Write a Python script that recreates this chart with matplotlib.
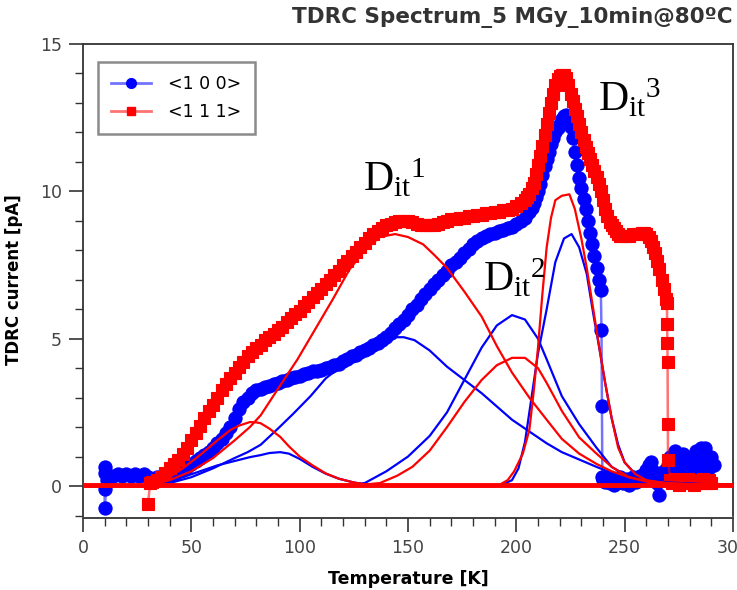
import matplotlib
matplotlib.use("Agg")
import matplotlib.pyplot as plt
from matplotlib.ticker import MultipleLocator

plt.rcParams['font.family'] = ['DejaVu Sans']
plt.rcParams['mathtext.fontset'] = 'custom'
plt.rcParams['mathtext.rm'] = 'Liberation Serif'
plt.rcParams['mathtext.it'] = 'Liberation Serif:italic'

title = "TDRC Spectrum_5 MGy_10min@80ºC"
xlabel = "Temperature [K]"
ylabel = "TDRC current [pA]"
labels = ["<1 0 0>", "<1 1 1>"]

# ---- measured data <1 0 0> (blue circles)
T_100 = [10, 10, 10, 10, 11, 12, 14, 16, 18, 20, 22, 24, 26, 28, 30, 32, 34, 36, 38, 40,
         42, 44, 46, 48, 50, 52, 54, 56, 58, 60, 62, 64, 66, 68, 70, 72, 74, 76, 78, 80,
         82, 84, 86, 88, 90, 92, 94, 96, 98, 100, 102, 104, 106, 108, 110, 112, 114, 116, 118, 120,
         122, 124, 126, 128, 130, 132, 134, 136, 138, 140, 142, 144, 146, 148, 150, 152, 154, 156, 158, 160,
         162, 164, 166, 168, 170, 172, 174, 176, 178, 180, 182, 184, 186, 188, 190, 192, 194, 196, 198, 200,
         202, 204, 206, 207, 208, 209, 210, 211, 212, 213, 214, 215, 216, 217, 218, 219, 220, 221, 222, 223,
         224, 225, 226, 227, 228, 229, 230, 231, 232, 233, 234, 235, 236, 237, 238, 239, 239.3, 239.5, 239.7, 240,
         241, 242, 243, 244, 245, 246, 247, 248, 249, 250, 251, 252, 253, 254, 255, 256, 257, 258, 259, 260,
         261, 262, 263, 264, 265, 266, 267, 268, 269, 270, 271, 272, 273, 274, 275, 276, 277, 278, 279, 280,
         281, 282, 283, 284, 285, 286, 287, 288, 289, 290, 291]
I_100 = [0.65, 0.45, -0.1, -0.75, 0.2, 0.3, 0.35, 0.4, 0.35, 0.4, 0.35, 0.4, 0.35, 0.4, 0.3, 0.25, 0.3, 0.3, 0.35, 0.4,
         0.45, 0.5, 0.55, 0.65, 0.75, 0.85, 0.95, 1.05, 1.15, 1.3, 1.45, 1.6, 1.8, 2.0, 2.3, 2.6, 2.85, 3.0, 3.15, 3.25,
         3.3, 3.35, 3.4, 3.45, 3.5, 3.55, 3.6, 3.65, 3.7, 3.75, 3.8, 3.85, 3.9, 3.9, 3.95, 4.0, 4.05, 4.1, 4.15, 4.25,
         4.3, 4.4, 4.45, 4.55, 4.6, 4.7, 4.8, 4.85, 4.95, 5.05, 5.2, 5.35, 5.5, 5.65, 5.8, 6.0, 6.15, 6.35, 6.5, 6.7,
         6.85, 7.0, 7.15, 7.3, 7.5, 7.6, 7.75, 7.9, 8.05, 8.2, 8.3, 8.4, 8.5, 8.55, 8.6, 8.65, 8.7, 8.75, 8.8, 8.9,
         9.0, 9.1, 9.3, 9.45, 9.6, 9.8, 10.0, 10.25, 10.55, 10.85, 11.1, 11.35, 11.6, 11.8, 12.0, 12.15, 12.3, 12.45, 12.55, 12.6,
         12.5, 12.2, 11.8, 11.35, 10.9, 10.45, 10.1, 9.75, 9.4, 9.0, 8.6, 8.2, 7.8, 7.4, 7.0, 6.65, 5.3, 2.7, 0.3, 0.2,
         0.15, 0.3, 0.1, 0.25, 0.05, 0.2, 0.15, 0.3, 0.1, 0.2, 0.25, 0.05, 0.2, 0.3, 0.15, 0.2, 0.35, 0.25, 0.4, 0.55,
         0.7, 0.8, 0.5, 0.3, 0.1, -0.3, 0.2, 0.5, 0.3, 0.7, 1.0, 0.6, 1.2, 0.9, 0.4, 0.8, 1.1, 0.5, 0.9, 0.6,
         1.0, 0.4, 1.2, 0.8, 1.3, 0.5, 1.3, 0.9, 0.6, 1.0, 0.7]

# ---- measured data <1 1 1> (red squares)
T_111 = [30, 31, 32, 34, 36, 38, 40, 42, 44, 46, 48, 50, 52, 54, 56, 58, 60, 62, 64, 66,
         68, 70, 72, 74, 76, 78, 80, 82, 84, 86, 88, 90, 92, 94, 96, 98, 100, 102, 104, 106,
         108, 110, 112, 114, 116, 118, 120, 122, 124, 126, 128, 130, 132, 134, 136, 138, 140, 142, 144, 146,
         148, 150, 152, 154, 156, 158, 160, 162, 164, 166, 168, 170, 172, 174, 176, 178, 180, 182, 184, 186,
         188, 190, 192, 194, 196, 198, 200, 202, 204, 205, 206, 207, 208, 209, 210, 211, 212, 213, 214, 215,
         216, 217, 218, 219, 220, 221, 222, 223, 224, 225, 226, 227, 228, 229, 230, 231, 232, 233, 234, 235,
         236, 237, 238, 239, 240, 241, 242, 243, 244, 245, 246, 247, 248, 250, 252, 254, 256, 258, 259, 260,
         261, 262, 263, 264, 265, 266, 267, 268, 269, 269.5, 269.6, 269.7, 269.8, 269.9, 270, 271, 272, 273, 274,
         275, 276, 277, 278, 279, 280, 281, 282, 283, 284, 285, 286, 287, 288, 289, 290]
I_111 = [-0.6, 0.1, 0.15, 0.2, 0.3, 0.45, 0.6, 0.75, 0.9, 1.1, 1.3, 1.55, 1.8, 2.05, 2.3, 2.55, 2.75, 3.0, 3.25, 3.45,
         3.65, 3.85, 4.05, 4.2, 4.4, 4.55, 4.7, 4.8, 4.95, 5.05, 5.15, 5.3, 5.4, 5.55, 5.7, 5.85, 5.95, 6.1, 6.25, 6.4,
         6.55, 6.7, 6.85, 7.0, 7.15, 7.3, 7.5, 7.65, 7.8, 7.95, 8.1, 8.25, 8.4, 8.55, 8.65, 8.75, 8.85, 8.9, 8.95, 9.0,
         9.0, 9.0, 8.95, 8.9, 8.85, 8.85, 8.85, 8.85, 8.9, 8.95, 9.0, 9.05, 9.05, 9.1, 9.1, 9.15, 9.15, 9.2, 9.2, 9.25,
         9.25, 9.3, 9.3, 9.35, 9.35, 9.4, 9.5, 9.6, 9.7, 9.8, 9.9, 10.1, 10.3, 10.6, 10.9, 11.2, 11.55, 11.9, 12.3, 12.65,
         13.0, 13.3, 13.6, 13.8, 13.9, 13.95, 13.95, 13.85, 13.6, 13.3, 13.05, 12.8, 12.55, 12.3, 12.0, 11.75, 11.5, 11.3, 11.1, 10.9,
         10.7, 10.5, 10.25, 10.0, 9.7, 9.4, 9.15, 8.95, 8.85, 8.75, 8.65, 8.55, 8.5, 8.5, 8.5, 8.55, 8.55, 8.6, 8.6, 8.55,
         8.45, 8.3, 8.1, 7.9, 7.65, 7.35, 7.0, 6.7, 6.35, 6.2, 5.5, 4.85, 4.2, 2.1, 0.9, 0.2, 0.1, 0.25, 0.15,
         0.05, 0.2, 0.1, 0.15, 0.25, 0.1, 0.2, 0.05, 0.15, 0.2, 0.1, 0.25, 0.15, 0.1, 0.2, 0.1]

# ---- fitted components <1 0 0> (blue thin lines)
T_b1 = [0, 30, 40, 46, 54, 62, 70, 77, 82, 86, 91, 95, 100, 106, 112, 118, 125, 132, 140, 300]
I_b1 = [0.0, 0.0, 0.1, 0.3, 0.5, 0.7, 0.85, 0.98, 1.05, 1.12, 1.15, 1.1, 0.92, 0.65, 0.42, 0.25, 0.12, 0.04, 0.0, 0.0]
T_b2 = [0, 30, 40, 50, 60, 70, 76, 82, 90, 97, 105, 112, 118, 125, 131, 137, 143, 148, 153, 160,
        168, 176, 184, 191, 198, 206, 214, 221, 229, 237, 244, 252, 260, 270, 285, 300]
I_b2 = [0.0, 0.0, 0.1, 0.3, 0.6, 0.95, 1.15, 1.4, 1.95, 2.45, 3.05, 3.65, 4.0, 4.45, 4.75, 4.95, 5.05, 5.05, 4.95, 4.6,
        4.05, 3.6, 3.15, 2.7, 2.25, 1.85, 1.45, 1.15, 0.9, 0.65, 0.45, 0.3, 0.2, 0.12, 0.07, 0.05]
T_b3 = [0, 120, 130, 140, 150, 160, 168, 176, 184, 191, 198, 204, 210, 214, 221, 229, 237, 244, 252, 260, 270, 300]
I_b3 = [0.0, 0.0, 0.1, 0.5, 1.0, 1.7, 2.5, 3.6, 4.7, 5.45, 5.8, 5.65, 5.0, 4.3, 3.05, 2.1, 1.3, 0.65, 0.3, 0.15, 0.08, 0.04]
T_b4 = [0, 190, 193, 198, 201, 204, 207, 210, 214, 218, 222, 225.5, 229, 232.5, 235.5, 238.5, 241, 244, 247, 250, 255, 260, 270, 300]
I_b4 = [0.0, 0.0, 0.03, 0.2, 0.6, 1.5, 3.0, 4.5, 6.0, 7.6, 8.4, 8.55, 8.1, 7.2, 5.85, 4.6, 3.5, 2.3, 1.4, 0.8, 0.4, 0.2, 0.08, 0.04]

# ---- fitted components <1 1 1> (red thin lines)
T_r1 = [0, 25, 32, 40, 46, 54, 62, 68, 72, 77, 80, 82, 86, 91, 95, 100, 106, 112, 118, 125, 132, 140, 300]
I_r1 = [0.0, 0.0, 0.08, 0.3, 0.6, 1.05, 1.55, 1.9, 2.05, 2.17, 2.16, 2.13, 1.95, 1.67, 1.35, 1.0, 0.7, 0.43, 0.25, 0.12, 0.04, 0.0, 0.0]
T_r2 = [0, 28, 32, 40, 50, 60, 70, 77, 82, 90, 99, 107, 115, 123, 130, 137, 144, 150, 157, 162,
        168, 176, 184, 191, 198, 206, 214, 221, 229, 237, 244, 252, 260, 270, 285, 300]
I_r2 = [0.0, 0.0, 0.05, 0.2, 0.5, 0.95, 1.55, 2.0, 2.4, 3.3, 4.3, 5.3, 6.3, 7.35, 8.0, 8.45, 8.55, 8.45, 8.2, 7.85,
        7.4, 6.6, 5.75, 4.75, 3.85, 3.0, 2.25, 1.6, 1.1, 0.75, 0.5, 0.3, 0.18, 0.1, 0.05, 0.03]
T_r3 = [0, 125, 137, 145, 152, 160, 168, 176, 184, 191, 198, 204, 210, 214, 221, 229, 237, 244, 252, 260, 270, 300]
I_r3 = [0.0, 0.02, 0.1, 0.35, 0.65, 1.2, 2.0, 2.85, 3.6, 4.1, 4.35, 4.35, 4.0, 3.5, 2.55, 1.65, 1.1, 0.65, 0.3, 0.15, 0.08, 0.04]
T_r4 = [0, 188, 192, 196, 199, 203, 206, 208, 210, 212, 214, 216, 218, 221, 224.5, 227, 230, 232.5, 235.5, 238.5, 241, 244, 247, 250, 255, 260, 270, 300]
I_r4 = [0.0, 0.0, 0.03, 0.2, 0.5, 1.1, 1.9, 3.2, 4.7, 6.5, 8.1, 9.1, 9.7, 9.85, 9.9, 9.4, 8.4, 7.4, 6.0, 4.6, 3.5, 2.3, 1.3, 0.8, 0.4, 0.2, 0.08, 0.04]

# baseline of the fits
T_base = [0, 300]
I_base = [0.05, 0.05]

# annotations (peak names)
peak_names = [r"$\mathrm{D_{it}}^{1}$", r"$\mathrm{D_{it}}^{2}$", r"$\mathrm{D_{it}}^{3}$"]
peak_T = [129, 184.5, 237.5]
peak_I = [10.0, 6.6, 12.7]

BLUE = "#0000ff"
RED = "#ff0000"

fig = plt.figure(figsize=(7.37, 5.90), dpi=100)
ax = fig.add_axes([83/737, 1 - 515.5/590, 650/737, (515.5 - 44)/590])

# measured data
ax.plot(T_100, I_100, color=BLUE, lw=1.8, alpha=0.55, zorder=2)
ax.plot(T_100, I_100, ls="none", marker="o", ms=9.5, mfc=BLUE, mec=BLUE, mew=0.8, zorder=3)
ax.plot(T_111, I_111, color=RED, lw=1.8, alpha=0.55, zorder=4)
ax.plot(T_111, I_111, ls="none", marker="s", ms=9.0, mfc=RED, mec=RED, mew=0.8, zorder=5)

# fits
for T, I in [(T_b1, I_b1), (T_b2, I_b2), (T_b3, I_b3), (T_b4, I_b4)]:
    ax.plot(T, I, color=BLUE, lw=1.6, zorder=6)
for T, I in [(T_r1, I_r1), (T_r2, I_r2), (T_r3, I_r3), (T_r4, I_r4)]:
    ax.plot(T, I, color=RED, lw=1.6, zorder=7)
ax.plot(T_base, I_base, color=RED, lw=3.5, zorder=7, solid_capstyle="butt")

for name, tx, ty in zip(peak_names, peak_T, peak_I):
    ax.text(tx, ty, name, fontsize=30, color="black", ha="left", va="baseline", zorder=10)

# legend handles
h1, = ax.plot([], [], color=(0, 0, 1, 0.55), lw=2, marker="o", ms=7, mfc=BLUE, mec=BLUE)
h2, = ax.plot([], [], color=(1, 0, 0, 0.55), lw=2, marker="s", ms=6, mfc=RED, mec=RED)
leg = ax.legend([h1, h2], labels, loc="upper left", bbox_to_anchor=(0.023, 0.962),
                borderaxespad=0.0, frameon=True, fancybox=False, fontsize=12.5, handlelength=2.3,
                borderpad=0.75, labelspacing=0.6, handletextpad=1.0)
leg.get_frame().set_edgecolor("#6e6e6e")
leg.get_frame().set_linewidth(1.8)

ax.set_xlim(0, 300)
ax.set_ylim(-1, 15)
ax.xaxis.set_major_locator(MultipleLocator(50))
ax.xaxis.set_minor_locator(MultipleLocator(10))
ax.yaxis.set_major_locator(MultipleLocator(5))
ax.yaxis.set_minor_locator(MultipleLocator(1))
ax.tick_params(which="major", direction="out", length=10, width=1.2, color="#333333",
               labelsize=12.5, labelcolor="#444444", pad=5)
ax.tick_params(which="minor", direction="out", length=5.5, width=1.0, color="#333333")
ax.spines["bottom"].set_position(("outward", 2))
for s in ax.spines.values():
    s.set_color("#333333")
    s.set_linewidth(1.3)

ax.set_xlabel(xlabel, fontsize=12.5, fontweight="bold", labelpad=9)
ax.set_ylabel(ylabel, fontsize=12, fontweight="bold", labelpad=12)
fig.text(733/737, 1 - 17/590, title, ha="right", va="center", fontsize=15.5,
         fontweight="bold", color="#333333")

fig.savefig("out.png", dpi=100)
